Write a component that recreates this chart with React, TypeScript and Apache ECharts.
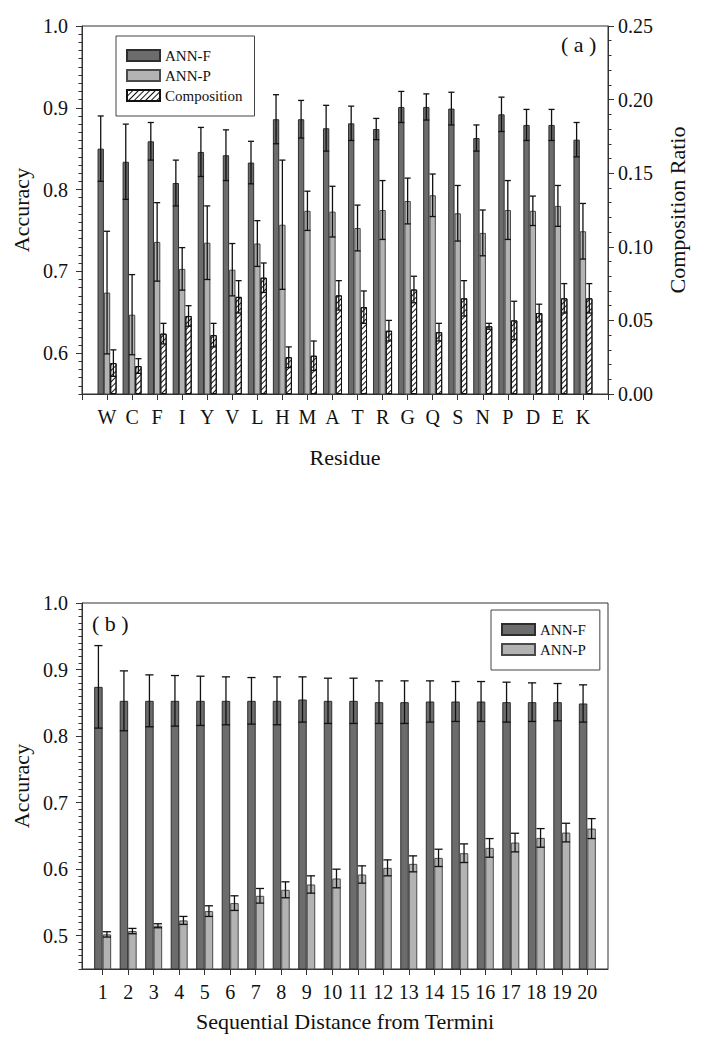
import React, { useEffect, useRef } from 'react';
import * as echarts from 'echarts';

const FONT = '"Liberation Serif", "Times New Roman", serif';
const AXIS = '#333';
const TXT = '#111';

// ---- Panel (a) data ----
const residues = ['W', 'C', 'F', 'I', 'Y', 'V', 'L', 'H', 'M', 'A', 'T', 'R', 'G', 'Q', 'S', 'N', 'P', 'D', 'E', 'K'];
const annF = [0.850, 0.834, 0.859, 0.808, 0.846, 0.842, 0.833, 0.886, 0.886, 0.875, 0.881, 0.874, 0.901, 0.901, 0.899, 0.863, 0.892, 0.879, 0.879, 0.861];
const annFErr = [0.040, 0.046, 0.023, 0.028, 0.030, 0.031, 0.026, 0.030, 0.023, 0.028, 0.021, 0.013, 0.019, 0.016, 0.020, 0.016, 0.021, 0.019, 0.019, 0.021];
const annP = [0.674, 0.647, 0.736, 0.703, 0.735, 0.702, 0.734, 0.757, 0.774, 0.773, 0.753, 0.775, 0.786, 0.793, 0.771, 0.747, 0.775, 0.774, 0.780, 0.749];
const annPErr = [0.075, 0.049, 0.048, 0.026, 0.045, 0.032, 0.028, 0.079, 0.024, 0.031, 0.028, 0.036, 0.028, 0.026, 0.034, 0.028, 0.036, 0.018, 0.025, 0.034];
const comp = [0.021, 0.019, 0.041, 0.053, 0.040, 0.066, 0.079, 0.025, 0.026, 0.067, 0.059, 0.043, 0.071, 0.042, 0.065, 0.046, 0.050, 0.055, 0.065, 0.065];
const compErr = [0.009, 0.005, 0.007, 0.007, 0.008, 0.011, 0.010, 0.007, 0.010, 0.010, 0.011, 0.007, 0.009, 0.006, 0.012, 0.002, 0.013, 0.006, 0.010, 0.010];
const accTicksA = [0.6, 0.7, 0.8, 0.9, 1.0];

// ---- Panel (b) data ----
const distances = [1, 2, 3, 4, 5, 6, 7, 8, 9, 10, 11, 12, 13, 14, 15, 16, 17, 18, 19, 20];
const annFB = [0.874, 0.853, 0.853, 0.853, 0.853, 0.853, 0.853, 0.853, 0.855, 0.853, 0.853, 0.851, 0.851, 0.852, 0.852, 0.852, 0.851, 0.851, 0.851, 0.849];
const annFBErr = [0.062, 0.045, 0.039, 0.038, 0.037, 0.036, 0.035, 0.036, 0.034, 0.034, 0.034, 0.032, 0.032, 0.031, 0.030, 0.030, 0.030, 0.029, 0.028, 0.028];
const annPB = [0.502, 0.507, 0.515, 0.523, 0.537, 0.549, 0.560, 0.569, 0.577, 0.586, 0.592, 0.602, 0.608, 0.617, 0.624, 0.632, 0.640, 0.647, 0.655, 0.661];
const annPBErr = [0.004, 0.004, 0.003, 0.006, 0.008, 0.011, 0.011, 0.012, 0.013, 0.014, 0.013, 0.012, 0.012, 0.013, 0.014, 0.014, 0.014, 0.014, 0.014, 0.015];
const accTicksB = [0.5, 0.6, 0.7, 0.8, 0.9, 1.0];

const BAR_A = 0.253;
const BAR_B = 0.333;

function errorBar(barPct: number, offsetIdx: number) {
  return (params: any, api: any) => {
    const x = api.value(0);
    const y = api.value(1);
    const e = api.value(2);
    const band = api.size([1, 0])[0];
    const w = band * barPct;
    const c = api.coord([x, y]);
    const cx = c[0] + offsetIdx * w;
    const yt = api.coord([x, y + e])[1];
    const yb = api.coord([x, y - e])[1];
    const hw = w * 0.48;
    const style = { stroke: '#111', lineWidth: 1.3, fill: null };
    return {
      type: 'group',
      children: [
        { type: 'line', shape: { x1: cx, y1: yt, x2: cx, y2: yb }, style },
        { type: 'line', shape: { x1: cx - hw, y1: yt, x2: cx + hw, y2: yt }, style },
        { type: 'line', shape: { x1: cx - hw, y1: yb, x2: cx + hw, y2: yb }, style },
      ],
    };
  };
}

const darkStyle = { color: '#6c6c6c', borderColor: '#2e2e2e', borderWidth: 1 };
const lightStyle = { color: '#b3b3b3', borderColor: '#4a4a4a', borderWidth: 1 };
const hatchStyle = {
  color: '#ffffff',
  borderColor: '#111',
  borderWidth: 1,
  decal: {
    symbol: 'rect',
    symbolSize: 1,
    dashArrayX: [1, 0],
    dashArrayY: [1, 3],
    rotation: -Math.PI / 4,
    color: '#111',
  },
};

const tickLabel = { fontFamily: FONT, fontSize: 20, color: TXT };
const nameStyle = { fontFamily: FONT, fontSize: 22, color: TXT };

function mainY(gridIndex: number, min: number, ticks: number[]) {
  return {
    type: 'value', gridIndex, position: 'left', min, max: 1.0,
    axisLine: { show: true, onZero: false, lineStyle: { color: AXIS, width: 1 } },
    axisTick: { show: true, customValues: ticks, length: 6, lineStyle: { color: AXIS } },
    axisLabel: { customValues: ticks, formatter: (v: number) => v.toFixed(1), margin: 14, ...tickLabel },
    splitLine: { show: false },
    name: 'Accuracy', nameLocation: 'middle', nameRotate: 90, nameGap: 46, nameTextStyle: nameStyle,
  };
}
function minorY(gridIndex: number, min: number) {
  return {
    type: 'value', gridIndex, position: 'left', min, max: 1.0, interval: 0.01,
    axisLine: { show: false, onZero: false },
    axisTick: { show: true, length: 3.5, lineStyle: { color: AXIS } },
    axisLabel: { show: false },
    splitLine: { show: false },
  };
}

const legendBase = {
  orient: 'vertical', icon: 'rect', itemWidth: 33, itemHeight: 11, itemGap: 5,
  padding: [12, 12, 13, 10], borderColor: '#444', borderWidth: 1, selectedMode: false,
  textStyle: { fontFamily: FONT, fontSize: 15, color: TXT, lineHeight: 15 },
};

const option: any = {
  animation: false,
  backgroundColor: '#ffffff',
  grid: [
    { left: 82, top: 26, width: 526, height: 368, show: true, borderColor: AXIS, borderWidth: 1 },
    { left: 82, top: 603, width: 526, height: 366, show: true, borderColor: AXIS, borderWidth: 1 },
  ],
  legend: [
    { ...legendBase, left: 116, top: 36, data: ['ANN-F', 'ANN-P', 'Composition'] },
    { ...legendBase, left: 491, top: 610, padding: [12, 14, 13, 10], data: ['ANN-F', 'ANN-P'] },
  ],
  xAxis: [
    {
      type: 'value', gridIndex: 0, min: 0, max: 21,
      axisLine: { onZero: false, lineStyle: { color: AXIS } },
      axisTick: { customValues: Array.from({ length: 22 }, (_, i) => i), length: 6, lineStyle: { color: AXIS } },
      axisLabel: { customValues: residues.map((_, i) => i + 1), formatter: (v: number) => residues[Math.round(v) - 1] || '', margin: 13, ...tickLabel },
      splitLine: { show: false },
      name: 'Residue', nameLocation: 'middle', nameGap: 52, nameTextStyle: nameStyle,
    },
    {
      type: 'value', gridIndex: 1, min: 0.19, max: 20.81,
      axisLine: { onZero: false, lineStyle: { color: AXIS } },
      axisTick: { customValues: distances, length: 6, lineStyle: { color: AXIS } },
      axisLabel: { customValues: distances, formatter: (v: number) => String(Math.round(v)), margin: 13, ...tickLabel },
      splitLine: { show: false },
      name: 'Sequential Distance from Termini', nameLocation: 'middle', nameGap: 41, nameTextStyle: nameStyle,
    },
  ],
  yAxis: [
    mainY(0, 0.55, accTicksA),
    minorY(0, 0.55),
    {
      type: 'value', gridIndex: 0, position: 'right', min: 0, max: 0.25, interval: 0.05,
      axisLine: { show: true, onZero: false, lineStyle: { color: AXIS } },
      axisTick: { show: true, length: 6, lineStyle: { color: AXIS } },
      minorTick: { show: true, splitNumber: 5, length: 3.5, lineStyle: { color: AXIS } },
      axisLabel: { formatter: (v: number) => v.toFixed(2), margin: 10, ...tickLabel },
      splitLine: { show: false },
      minorSplitLine: { show: false },
      name: 'Composition Ratio', nameLocation: 'middle', nameRotate: 90, nameGap: 58, nameTextStyle: nameStyle,
    },
    mainY(1, 0.45, accTicksB),
    minorY(1, 0.45),
  ],
  graphic: [
    { type: 'text', left: 561, top: 33, style: { text: '( a )', font: `22px ${FONT}`, fill: TXT } },
    { type: 'text', left: 92, top: 612, style: { text: '( b )', font: `22px ${FONT}`, fill: TXT } },
  ],
  series: [
    { type: 'bar', name: 'ANN-F', xAxisIndex: 0, yAxisIndex: 0, barWidth: '25.3%', barGap: '0%', itemStyle: darkStyle, data: residues.map((_, i) => [i + 1, annF[i]]) },
    { type: 'bar', name: 'ANN-P', xAxisIndex: 0, yAxisIndex: 0, barWidth: '25.3%', barGap: '0%', itemStyle: lightStyle, data: residues.map((_, i) => [i + 1, annP[i]]) },
    { type: 'bar', name: 'Composition', xAxisIndex: 0, yAxisIndex: 2, barWidth: '25.3%', barGap: '0%', itemStyle: hatchStyle, data: residues.map((_, i) => [i + 1, comp[i]]) },
    { type: 'custom', xAxisIndex: 0, yAxisIndex: 0, z: 5, renderItem: errorBar(BAR_A, -1), data: residues.map((_, i) => [i + 1, annF[i], annFErr[i]]) },
    { type: 'custom', xAxisIndex: 0, yAxisIndex: 0, z: 5, renderItem: errorBar(BAR_A, 0), data: residues.map((_, i) => [i + 1, annP[i], annPErr[i]]) },
    { type: 'custom', xAxisIndex: 0, yAxisIndex: 2, z: 5, renderItem: errorBar(BAR_A, 1), data: residues.map((_, i) => [i + 1, comp[i], compErr[i]]) },

    { type: 'bar', name: 'ANN-F', xAxisIndex: 1, yAxisIndex: 3, barWidth: '33.3%', barGap: '0%', itemStyle: darkStyle, data: distances.map((d, i) => [d, annFB[i]]) },
    { type: 'bar', name: 'ANN-P', xAxisIndex: 1, yAxisIndex: 3, barWidth: '33.3%', barGap: '0%', itemStyle: lightStyle, data: distances.map((d, i) => [d, annPB[i]]) },
    { type: 'custom', xAxisIndex: 1, yAxisIndex: 3, z: 5, renderItem: errorBar(BAR_B, -0.5), data: distances.map((d, i) => [d, annFB[i], annFBErr[i]]) },
    { type: 'custom', xAxisIndex: 1, yAxisIndex: 3, z: 5, renderItem: errorBar(BAR_B, 0.5), data: distances.map((d, i) => [d, annPB[i], annPBErr[i]]) },
  ],
};

export default function App() {
  const ref = useRef<HTMLDivElement>(null);
  useEffect(() => {
    const chart = echarts.init(ref.current!, null, { renderer: 'svg' });
    chart.setOption(option);
    return () => chart.dispose();
  }, []);
  return (
    <div
      ref={ref}
      style={{ position: 'absolute', left: 0, top: 0, width: 702, height: 1050, background: '#fff' }}
    />
  );
}
